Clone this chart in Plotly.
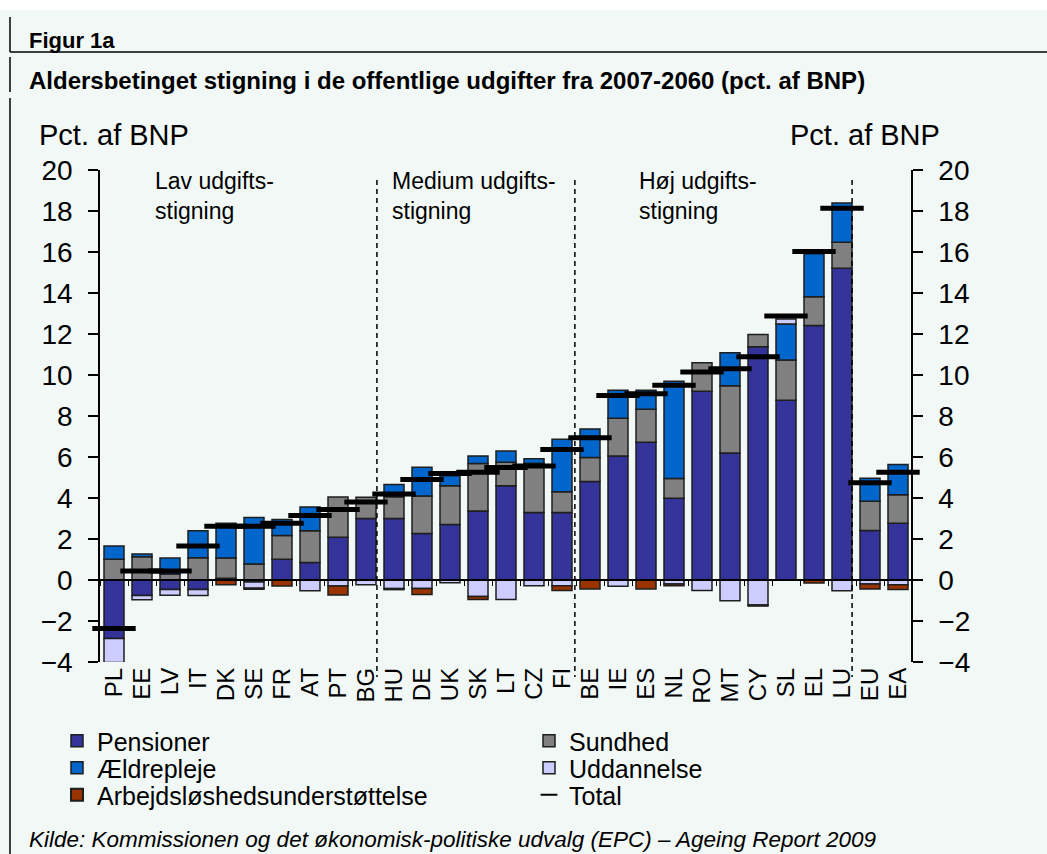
import plotly.graph_objects as go

W, H = 1047, 854

countries = ["PL", "EE", "LV", "IT", "DK", "SE", "FR", "AT", "PT", "BG", "HU", "DE", "UK", "SK",
             "LT", "CZ", "FI", "BE", "IE", "ES", "NL", "RO", "MT", "CY", "SL", "EL", "LU", "EU", "EA"]

pensioner = [-2.85, -0.75, -0.46, -0.46, 0.08, -0.10, 1.01, 0.85, 2.09, 3.00, 3.00, 2.27, 2.71, 3.37,
             4.60, 3.29, 3.29, 4.81, 6.05, 6.72, 3.99, 9.21, 6.19, 11.38, 8.77, 12.42, 15.21, 2.41, 2.77]
sundhed = [1.01, 1.14, 0.29, 1.08, 0.99, 0.78, 1.16, 1.55, 1.96, 1.04, 1.06, 1.83, 1.89, 2.31,
           1.14, 2.40, 1.01, 1.17, 1.84, 1.61, 0.96, 1.39, 3.29, 0.60, 1.96, 1.40, 1.26, 1.43, 1.39]
aeldrepleje = [0.65, 0.13, 0.78, 1.32, 1.70, 2.27, 0.78, 1.16, None, None, 0.60, 1.40, 0.49, 0.37,
               0.55, 0.23, 2.56, 1.39, 1.37, 0.93, 4.74, None, 1.61, None, 1.76, 2.09, 1.92, 1.12, 1.47]
uddannelse = [-1.17, -0.21, -0.28, -0.29, None, -0.30, None, -0.52, -0.29, -0.23, -0.42, -0.42, -0.13, -0.80,
              -0.95, -0.28, -0.28, None, -0.31, None, -0.20, -0.51, -1.01, -1.22, 0.24, None, -0.52, -0.20, -0.23]
arbejdsloshed = [None, None, None, None, -0.23, -0.05, -0.29, None, -0.44, None, -0.05, -0.29, None, -0.15,
                 None, None, -0.23, -0.44, None, -0.44, -0.08, None, None, -0.05, None, -0.15, None, -0.24, -0.23]
total = [-2.36, 0.44, 0.44, 1.66, 2.62, 2.62, 2.77, 3.15, 3.44, 3.80, 4.19, 4.90, 5.20, 5.26,
         5.49, 5.56, 6.37, 6.94, 9.00, 9.08, 9.50, 10.15, 10.30, 10.89, 12.88, 16.02, 18.14, 4.74, 5.26]

y_ticks = list(range(-4, 21, 2))
group_labels = ["Lav udgifts-<br>stigning", "Medium udgifts-<br>stigning", "Høj udgifts-<br>stigning"]
group_separators = [9.39, 16.46, 26.36]

FONT = "Liberation Sans, Arial, sans-serif"
BG = "#f1f8f6"
OUTLINE = "#1e1e1e"


def px(xp):
    return xp / W


def py(yp):
    return (H - yp) / H


fig = go.Figure()

series = [
    ("Pensioner", pensioner, "#333399", "legend"),
    ("Sundhed", sundhed, "#808080", "legend"),
    ("Ældrepleje", aeldrepleje, "#0066cc", "legend2"),
    ("Uddannelse", uddannelse, "#ccccff", "legend2"),
    ("Arbejdsløshedsunderstøttelse", arbejdsloshed, "#993300", "legend3"),
]
for name, vals, col, leg in series:
    fig.add_trace(go.Bar(
        x=countries, y=vals, name=name, legend=leg,
        marker=dict(color=col, line=dict(color=OUTLINE, width=1.5)),
    ))

fig.add_trace(go.Scatter(
    x=countries, y=total, name="Total", legend="legend3", mode="markers",
    marker=dict(symbol="line-ew", size=31, line=dict(width=5, color="black"), color="black"),
    cliponaxis=False,
))

# helper trace for the zero-line axis and right-hand y axis
fig.add_trace(go.Scatter(x=countries, y=[None] * len(countries), xaxis="x2", yaxis="y2",
                         showlegend=False, hoverinfo="skip"))

x_dom = [px(100), px(912)]
y_dom = [py(662), py(170)]
zero_pos = y_dom[0] + (y_dom[1] - y_dom[0]) * (0 - (-4)) / 24

axis_common = dict(range=[-4, 20], tickvals=y_ticks, ticks="outside", ticklen=10, tickwidth=1.5,
                   tickcolor="black", showline=True, linecolor="black", linewidth=1.5,
                   showgrid=False, zeroline=False, tickfont=dict(family=FONT, size=28, color="black"),
                   domain=y_dom, automargin=False)

shapes = [
    dict(type="rect", xref="paper", yref="paper", x0=0, x1=1, y0=py(10), y1=1,
         fillcolor="white", line=dict(width=0), layer="below"),
    dict(type="line", xref="paper", yref="paper", x0=px(10), x1=1, y0=py(52), y1=py(52),
         line=dict(color="black", width=1.5)),
    dict(type="line", xref="paper", yref="paper", x0=px(10), x1=px(10), y0=py(17), y1=py(52),
         line=dict(color="black", width=1.5)),
    dict(type="line", xref="paper", yref="paper", x0=px(10), x1=px(10), y0=py(57), y1=py(92),
         line=dict(color="black", width=1.5)),
    dict(type="line", xref="paper", yref="paper", x0=px(10), x1=px(10), y0=py(98), y1=0,
         line=dict(color="black", width=1.5)),
]
for s in group_separators:
    shapes.append(dict(type="line", xref="x", yref="paper", x0=s, x1=s, y0=py(180), y1=py(677),
                       line=dict(color="black", width=1.5, dash="5px,4px")))

annotations = [
    dict(text="<b>Figur 1a</b>", x=px(27), y=py(40), xref="paper", yref="paper",
         xanchor="left", yanchor="middle", showarrow=False, font=dict(family=FONT, size=22, color="black")),
    dict(text="<b>Aldersbetinget stigning i de offentlige udgifter fra 2007-2060 (pct. af BNP)</b>",
         x=px(27), y=py(80), xref="paper", yref="paper", xanchor="left", yanchor="middle",
         showarrow=False, font=dict(family=FONT, size=24, color="black")),
    dict(text="Pct. af BNP", x=px(37), y=py(135), xref="paper", yref="paper", xanchor="left",
         yanchor="middle", showarrow=False, font=dict(family=FONT, size=29, color="black")),
    dict(text="Pct. af BNP", x=px(942), y=py(135), xref="paper", yref="paper", xanchor="right",
         yanchor="middle", showarrow=False, font=dict(family=FONT, size=29, color="black")),
    dict(text="Kilde: Kommissionen og det økonomisk-politiske udvalg (EPC) – Ageing Report 2009",
         x=px(27), y=py(839), xref="paper", yref="paper", xanchor="left", yanchor="middle",
         showarrow=False, font=dict(family=FONT, size=22.5, color="black", style="italic")),
]
for lbl, xl in zip(group_labels, [153, 390, 637]):
    annotations.append(dict(text=lbl, x=px(xl), y=py(196), xref="paper", yref="paper",
                            xanchor="left", yanchor="middle", align="left", showarrow=False,
                            font=dict(family=FONT, size=23, color="black")))

legend_common = dict(orientation="h", xanchor="left", yanchor="middle", x=px(57),
                     bgcolor="rgba(0,0,0,0)", entrywidth=427, entrywidthmode="pixels",
                     font=dict(family=FONT, size=25, color="black"), traceorder="normal")

fig.update_layout(
    width=W, height=H, autosize=False,
    margin=dict(l=0, r=0, t=0, b=0, autoexpand=False),
    paper_bgcolor=BG, plot_bgcolor=BG,
    barmode="relative", bargap=0.2857,
    font=dict(family=FONT, color="black"),
    xaxis=dict(domain=x_dom, anchor="y", type="category", range=[-0.5, len(countries) - 0.5],
               tickmode="array", tickvals=countries, automargin=False,
               showline=False, ticks="", tickangle=-90, showgrid=False,
               tickfont=dict(family=FONT, size=24, color="black")),
    xaxis2=dict(domain=x_dom, overlaying="x", anchor="free", position=zero_pos, type="category",
                range=[-0.5, len(countries) - 0.5], showline=True, linecolor="black", linewidth=1.5,
                ticks="outside", tickson="boundaries", ticklen=5, tickwidth=1, tickcolor="black",
                showticklabels=False, showgrid=False, automargin=False),
    yaxis=dict(side="left", anchor="x", ticklabelstandoff=10, **axis_common),
    yaxis2=dict(side="right", overlaying="y", anchor="free", position=px(912),
                ticklabelstandoff=10, **axis_common),
    legend=dict(y=py(741), **legend_common),
    legend2=dict(y=py(768), **legend_common),
    legend3=dict(y=py(795), itemsizing="constant", **legend_common),
    shapes=shapes,
    annotations=annotations,
)

fig.write_html("out.html", config={"displayModeBar": False},
               post_script="document.body.style.margin='0px';")
